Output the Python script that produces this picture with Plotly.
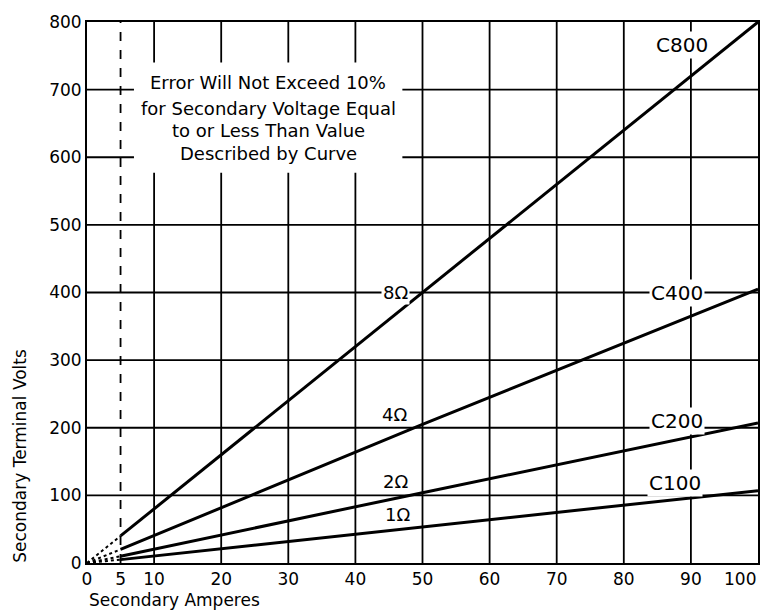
import plotly.graph_objects as go

# ---- data ----
amperes = [0, 5, 50, 100]
c800_volts = [0, 40, 400, 800]
c400_volts = [0, 20, 205, 405]
c200_volts = [0, 10, 104, 207]
c100_volts = [0, 5, 53, 107]
class_names = ["C800", "C400", "C200", "C100"]
burden_names = ["8Ω", "4Ω", "2Ω", "1Ω"]
x_tick_vals = [0, 5, 10, 20, 30, 40, 50, 60, 70, 80, 90, 100]
y_tick_vals = [0, 100, 200, 300, 400, 500, 600, 700, 800]
note_lines = [
    "Error Will Not Exceed 10%",
    "for Secondary Voltage Equal",
    "to or Less Than Value",
    "Described by Curve",
]

series = [c800_volts, c400_volts, c200_volts, c100_volts]
FONT = "DejaVu Sans"

fig = go.Figure()
for vals in series:
    # dotted start near the origin
    fig.add_trace(go.Scatter(x=amperes[:2], y=vals[:2], mode="lines",
                             line=dict(color="black", width=2, dash="dot"),
                             showlegend=False, hoverinfo="skip"))
    fig.add_trace(go.Scatter(x=amperes[1:], y=vals[1:], mode="lines",
                             line=dict(color="black", width=3),
                             showlegend=False))

shapes = []
for xv in x_tick_vals:
    if xv in (0, 100):
        continue
    shapes.append(dict(type="line", xref="x", yref="y", x0=xv, x1=xv,
                       y0=y_tick_vals[0], y1=y_tick_vals[-1], layer="below",
                       line=dict(color="black", width=1.8,
                                 dash="dash" if xv == 5 else "solid")))
for yv in y_tick_vals[1:-1]:
    shapes.append(dict(type="line", xref="x", yref="y", x0=0, x1=100,
                       y0=yv, y1=yv, layer="below",
                       line=dict(color="black", width=1.8)))
# white area behind the note
shapes.append(dict(type="rect", xref="x", yref="y", x0=7, x1=47, y0=577, y1=740,
                   fillcolor="white", line=dict(width=0), layer="below"))

annotations = []
# note text
note_y = [710, 672, 640, 606]
for t, yy in zip(note_lines, note_y):
    annotations.append(dict(x=27, y=yy, xref="x", yref="y", text=t, showarrow=False,
                            font=dict(family=FONT, size=18, color="black")))

# curve class labels (x, y) positions
class_pos = [(88.6, 766), (88, 400), (88, 210), (87.7, 118)]
for name, (xx, yy) in zip(class_names, class_pos):
    annotations.append(dict(x=xx, y=yy, xref="x", yref="y", text=name, showarrow=False,
                            bgcolor="white", borderpad=1,
                            font=dict(family=FONT, size=20, color="black")))
burden_pos = [(46, 400, "white"), (45.8, 219, None), (46, 121, None), (46.2, 71, None)]
for name, (xx, yy, bg) in zip(burden_names, burden_pos):
    a = dict(x=xx, y=yy, xref="x", yref="y", text=name, showarrow=False,
             font=dict(family=FONT, size=18, color="black"))
    if bg:
        a["bgcolor"] = bg
        a["borderpad"] = 1
    annotations.append(a)

# last x tick label sits flush with the right edge of the frame
annotations.append(dict(x=x_tick_vals[-1], y=0, xref="x", yref="paper", xanchor="right",
                        yanchor="top", yshift=-4, text=str(x_tick_vals[-1]), showarrow=False,
                        font=dict(family=FONT, size=17, color="black")))

# axis titles
annotations.append(dict(x=0, y=-0.068, xref="paper", yref="paper", xanchor="left",
                        yanchor="middle", text="Secondary Amperes", showarrow=False,
                        font=dict(family=FONT, size=17, color="black")))
annotations.append(dict(x=-0.1, y=0.198, xref="paper", yref="paper", xanchor="center",
                        yanchor="middle", textangle=-90, text="Secondary Terminal Volts",
                        showarrow=False, font=dict(family=FONT, size=17, color="black")))

fig.update_layout(
    width=763, height=612,
    margin=dict(l=87, r=3, t=22, b=49),
    paper_bgcolor="white", plot_bgcolor="white",
    shapes=shapes, annotations=annotations,
    showlegend=False,
    font=dict(family=FONT, size=16, color="black"),
)
fig.update_xaxes(range=[0, 100], tickvals=x_tick_vals[:-1],
                 ticktext=[str(v) for v in x_tick_vals[:-1]],
                 showgrid=False, zeroline=False, showline=True, mirror=True,
                 linecolor="black", linewidth=2, ticks="",
                 tickfont=dict(family=FONT, size=17, color="black"))
fig.update_yaxes(range=[0, 800], tickvals=y_tick_vals,
                 showgrid=False, zeroline=False, showline=True, mirror=True,
                 linecolor="black", linewidth=2, ticks="",
                 tickfont=dict(family=FONT, size=17, color="black"))

fig.write_html(
    "out.html",
    config={"displayModeBar": False},
    post_script="document.body.style.margin='0';document.body.style.overflow='hidden';",
)
